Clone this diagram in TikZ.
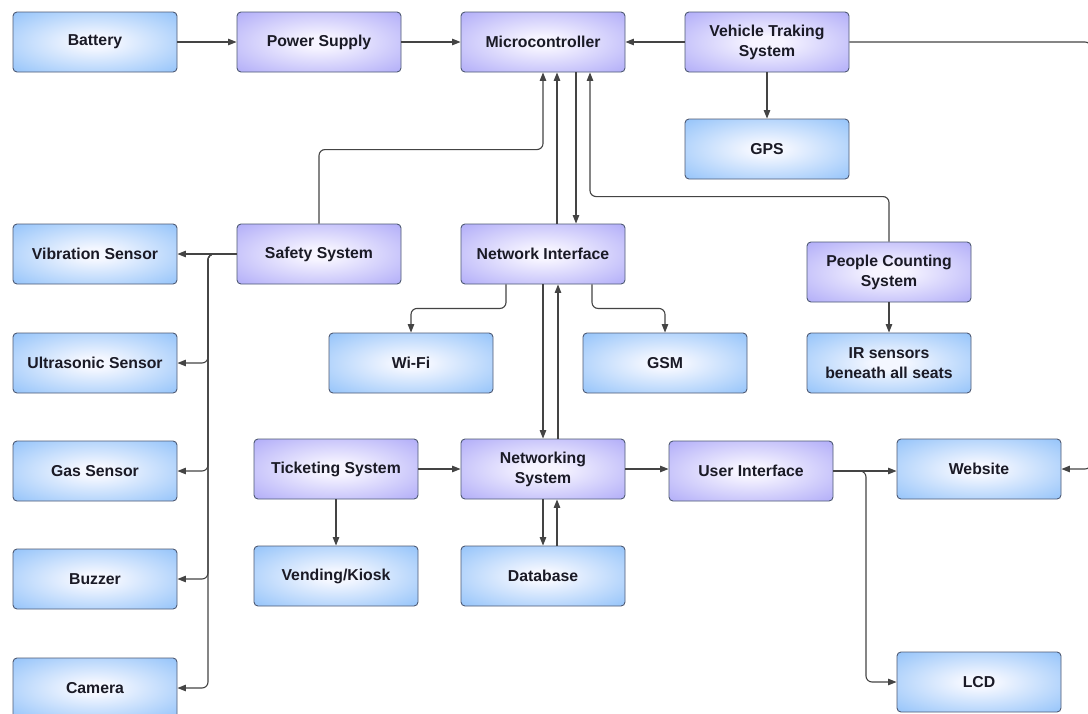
\documentclass[tikz,border=0pt]{standalone}
\usepackage{fontspec}
\setmainfont{Liberation Sans}
\usetikzlibrary{arrows.meta,calc}
\definecolor{bcen}{HTML}{F4F7FF}
\definecolor{bedge}{HTML}{74B2F8}
\definecolor{pcen}{HTML}{F6F4FF}
\definecolor{pedge}{HTML}{9A95F6}
\definecolor{bord}{HTML}{4E5A74}
\definecolor{linec}{HTML}{444444}
\definecolor{txt}{HTML}{1A1A26}
\pgfdeclareradialshading{bluebox}{\pgfpoint{0bp}{0bp}}{color(0bp)=(bcen); color(5bp)=(bcen); color(46bp)=(bedge); color(80bp)=(bedge)}
\pgfdeclareradialshading{purplebox}{\pgfpoint{0bp}{0bp}}{color(0bp)=(pcen); color(5bp)=(pcen); color(46bp)=(pedge); color(80bp)=(pedge)}
\tikzset{
  box/.style={draw=bord, line width=0.9pt, rounded corners=4pt, minimum width=164pt, minimum height=60pt,
    inner sep=0pt, align=center, text=txt, font=\fontsize{15.8}{20}\selectfont\bfseries},
  bbox/.style={box, shading=bluebox},
  pbox/.style={box, shading=purplebox},
  conn/.style={draw=linec, line width=1.1pt, rounded corners=6pt, -{Triangle[length=8.5pt,width=6.5pt]}},
}
\begin{document}
\begin{tikzpicture}[x=1pt,y=-1pt]
\useasboundingbox (0,0) rectangle (1088,713);
\clip (0,0) rectangle (1088,713);
\fill[white] (0,0) rectangle (1088,713);
% nodes
\node[bbox] (bat) at (95,42) {Battery};
\node[pbox] (ps) at (319,42) {Power Supply};
\node[pbox] (mc) at (543,42) {Microcontroller};
\node[pbox] (vts) at (767,42) {Vehicle Traking\\System};
\node[bbox] (gps) at (767,149) {GPS};
\node[bbox] (vib) at (95,254) {Vibration Sensor};
\node[pbox] (saf) at (319,254) {Safety System};
\node[pbox] (ni) at (543,254) {Network Interface};
\node[pbox] (pcs) at (889,272) {People Counting\\System};
\node[bbox] (us) at (95,363) {Ultrasonic Sensor};
\node[bbox] (wifi) at (411,363) {Wi-Fi};
\node[bbox] (gsm) at (665,363) {GSM};
\node[bbox] (ir) at (889,363) {IR sensors\\beneath all seats};
\node[bbox] (gas) at (95,471) {Gas Sensor};
\node[pbox] (ts) at (336,469) {Ticketing System};
\node[pbox] (ns) at (543,469) {Networking\\System};
\node[pbox] (ui) at (751,471) {User Interface};
\node[bbox] (web) at (979,469) {Website};
\node[bbox] (buz) at (95,579) {Buzzer};
\node[bbox] (vk) at (336,576) {Vending/Kiosk};
\node[bbox] (db) at (543,576) {Database};
\node[bbox] (cam) at (95,688) {Camera};
\node[bbox] (lcd) at (979,682) {LCD};
% helper coordinates
\coordinate (rc) at (1091,0);
\coordinate (trk) at (208,0);
\coordinate (lt) at (866,0);
% top row
\draw[conn] (bat) -- (ps);
\draw[conn] (ps) -- (mc);
\draw[conn] (vts) -- (mc);
\draw[conn] (vts) -- (gps);
\draw[conn] (vts.east) -- (vts.east -| rc) -- (web.east -| rc) -- (web.east);
% into / out of microcontroller
\draw[conn] (saf.north) -- ++(0,-74) -| (mc.south);
\draw[conn] ([xshift=14pt]mc.south |- ni.north) -- ([xshift=14pt]mc.south);
\draw[conn] ([xshift=33pt]mc.south) -- ([xshift=33pt]mc.south |- ni.north);
\draw[conn] (pcs.north) -- ++(0,-45) -| ([xshift=47pt]mc.south);
\draw[conn] (pcs) -- (ir);
% network interface
\draw[conn] ([xshift=-37pt]ni.south) -- ++(0,24) -| (wifi.north);
\draw[conn] ([xshift=49pt]ni.south) -- ++(0,24) -| (gsm.north);
\draw[conn] (ni.south) -- (ns.north);
\draw[conn] ([xshift=15pt]ns.north) -- ([xshift=15pt]ns.north |- ni.south);
% networking system
\draw[conn] (ts) -- (ns);
\draw[conn] (ts) -- (vk);
\draw[conn] (ns.south) -- (db.north);
\draw[conn] ([xshift=14pt]db.north) -- ([xshift=14pt]ns.south);
\draw[conn] (ns.east) -- (ui.west |- ns.east);
\draw[conn] (ui.east) -- (web.west |- ui.east);
\draw[conn] (ui.east) -- (ui.east -| lt) -- (lcd.west -| lt) -- (lcd.west);
% safety system sensors
\draw[conn] (saf.west) -- (vib.east);
\draw[conn] (saf.west) -- (trk |- saf.west) -- (trk |- us.east) -- (us.east);
\draw[conn] (saf.west) -- (trk |- saf.west) -- (trk |- gas.east) -- (gas.east);
\draw[conn] (saf.west) -- (trk |- saf.west) -- (trk |- buz.east) -- (buz.east);
\draw[conn] (saf.west) -- (trk |- saf.west) -- (trk |- cam.east) -- (cam.east);
\end{tikzpicture}
\end{document}
